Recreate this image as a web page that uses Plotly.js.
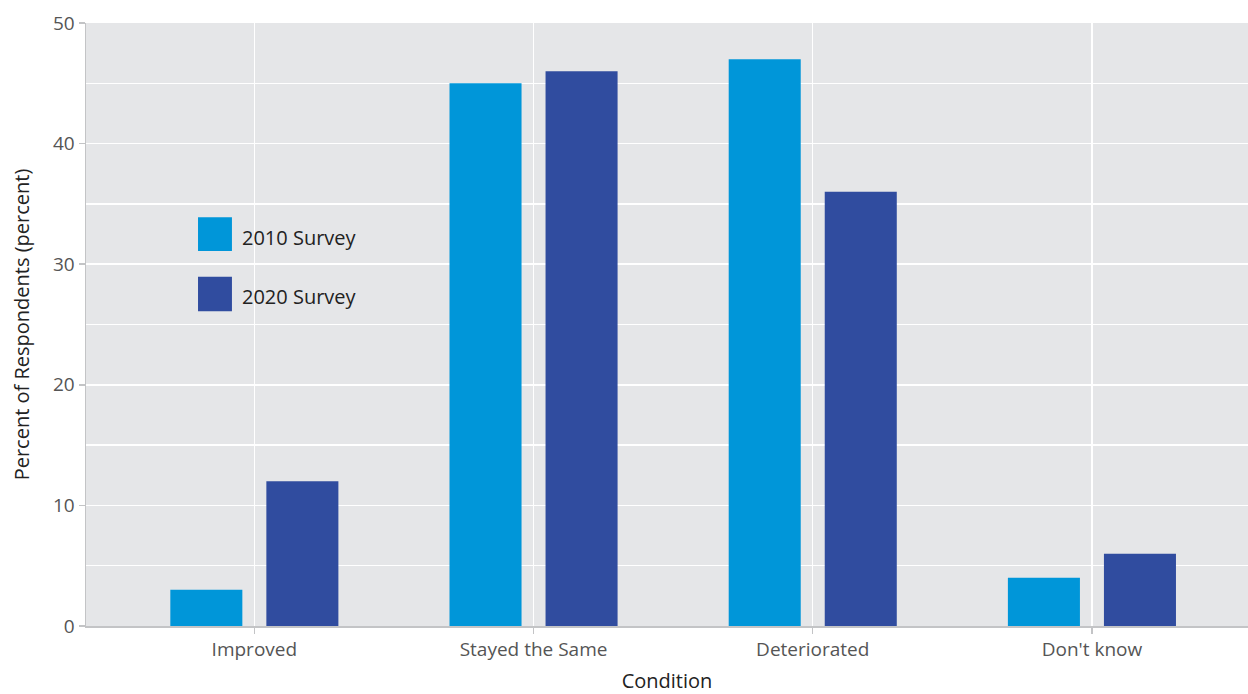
<!DOCTYPE html>
<html>
<head>
<meta charset="utf-8">
<script src="https://cdn.plot.ly/plotly-3.0.1.min.js"></script>
<style>html,body{margin:0;padding:0;background:#fff;}#chart{width:1248px;height:694px;}</style>
</head>
<body>
<div id="chart"></div>
<script>
var categories = ["Improved", "Stayed the Same", "Deteriorated", "Don't know"];
var seriesNames = ["2010 Survey", "2020 Survey"];
var survey2010 = [3, 45, 47, 4];
var survey2020 = [12, 46, 36, 6];
var colors = ["#0096D9", "#304C9F"];

var FONT = "Open Sans, Noto Sans, sans-serif";

var traces = [
  {type: "bar", x: categories, y: survey2010, name: seriesNames[0], marker: {color: colors[0]}, showlegend: false, hoverinfo: "x+y+name"},
  {type: "bar", x: categories, y: survey2020, name: seriesNames[1], marker: {color: colors[1]}, showlegend: false, hoverinfo: "x+y+name"}
];

var legendBoxes = [[0.678, 0.622], [0.579, 0.522]];
var legendText = [0.645, 0.547];
var shapes = [], annotations = [];
for (var i = 0; i < seriesNames.length; i++) {
  shapes.push({type: "rect", xref: "paper", yref: "paper", x0: 0.0964, x1: 0.1256, y0: legendBoxes[i][1], y1: legendBoxes[i][0], fillcolor: colors[i], line: {width: 0}});
  annotations.push({xref: "paper", yref: "paper", x: 0.1325, y: legendText[i], xanchor: "left", yanchor: "middle", text: seriesNames[i], showarrow: false, font: {family: FONT, size: 20, color: "#222"}});
}

var layout = {
  width: 1248, height: 694,
  margin: {l: 86, r: 0, t: 23, b: 68},
  paper_bgcolor: "#ffffff",
  plot_bgcolor: "#E5E6E8",
  barmode: "group",
  bargap: 0.312,
  bargroupgap: 0.25,
  font: {family: FONT, size: 19, color: "#555"},
  xaxis: {
    range: [-0.603, 3.559],
    showgrid: true, gridcolor: "#ffffff", gridwidth: 1.5,
    showline: true, linecolor: "#C3C4C6", linewidth: 1.5,
    ticks: "outside", ticklen: 6, tickcolor: "#C3C4C6", tickwidth: 1.5,
    tickfont: {family: FONT, size: 19, color: "#555"},
    title: {text: "Condition", font: {family: FONT, size: 20, color: "#222"}, standoff: 19},
    zeroline: false
  },
  yaxis: {
    range: [0, 50],
    dtick: 10,
    showgrid: true, gridcolor: "#ffffff", gridwidth: 1.5,
    minor: {dtick: 5, showgrid: true, gridcolor: "#ffffff", gridwidth: 1.5},
    showline: true, linecolor: "#C3C4C6", linewidth: 1.5,
    ticks: "outside", ticklen: 6, tickcolor: "#C3C4C6", tickwidth: 1.5,
    tickfont: {family: FONT, size: 19, color: "#555"},
    title: {text: "Percent of Respondents (percent)", font: {family: FONT, size: 20, color: "#222"}, standoff: 18},
    zeroline: false
  },
  shapes: shapes,
  annotations: annotations
};

Plotly.newPlot("chart", traces, layout, {displayModeBar: false, staticPlot: true});
</script>
</body>
</html>
